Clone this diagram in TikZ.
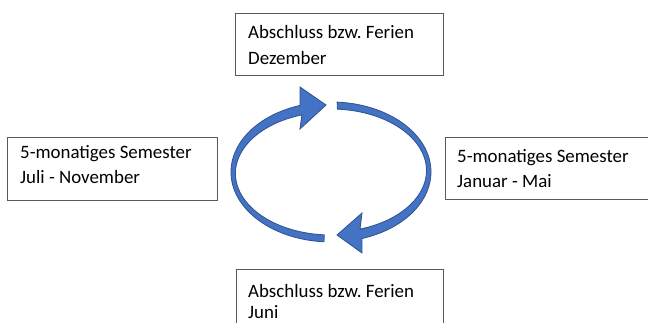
\documentclass[tikz,border=0pt]{standalone}
\usepackage{fontspec}
\setmainfont{Carlito}
\frenchspacing
\definecolor{arrowfill}{HTML}{4472C4}
\definecolor{arrowline}{HTML}{2F528F}
\definecolor{boxline}{HTML}{5A5A5A}
\begin{document}
\begin{tikzpicture}[x=1pt,y=1pt,
  box/.style={draw=boxline, line width=0.9pt, fill=white, inner sep=0pt},
  lbl/.style={anchor=base west, inner sep=0pt, font=\fontsize{18.9}{25}\selectfont, text=black},
  cyc/.style={fill=arrowfill, draw=arrowline, line width=0.8pt, line join=miter}]
\useasboundingbox (0,0) rectangle (648,322);
\fill[white] (0,0) rectangle (648,322);
% boxes
\draw[box] (235,247) rectangle (443,309);
\node[box, draw=none] (bTop) at (339,278) {};
\draw[box] (7,122) rectangle (217,185);
\node[box, draw=none] (bLeft) at (112,153) {};
\draw[box] (445,123) rectangle (660,185);
\node[box, draw=none] (bRight) at (550,154) {};
\draw[box] (236,-10) rectangle (443,53);
\node[box, draw=none] (bBot) at (339,22) {};
% texts
\node[lbl] (tTopA) at (248,283) {Abschluss bzw. Ferien};
\node[lbl] (tTopB) at (248,257) {Dezember};
\node[lbl] (tLeftA) at (20,164) {5-monatiges Semester};
\node[lbl] (tLeftB) at (20,139) {Juli - November};
\node[lbl] (tRightA) at (457,160) {5-monatiges Semester};
\node[lbl] (tRightB) at (457,135) {Januar - Mai};
\node[lbl] (tBotA) at (248,25) {Abschluss bzw. Ferien};
\node[lbl] (tBotB) at (248,4) {Juni};
% left cycle arrow (bottom -> left -> top)
\draw[cyc] (324.0,80.2) arc[start angle=266, end angle=108, x radius=100, y radius=70]
  -- (300,235) -- (326,217) -- (300,193) -- (301.9,207.1)
  arc[start angle=107.7, end angle=266, x radius=95.5, y radius=61.5] -- cycle;
% right cycle arrow (top -> right -> bottom)
\draw[cyc] (337.1,219.9) arc[start angle=86.5, end angle=-72, x radius=100, y radius=70]
  -- (362,69) -- (337,87) -- (362,109) -- (360.0,92.9)
  arc[start angle=-72.3, end angle=86.1, x radius=95.5, y radius=61.5] -- cycle;
\end{tikzpicture}
\end{document}
